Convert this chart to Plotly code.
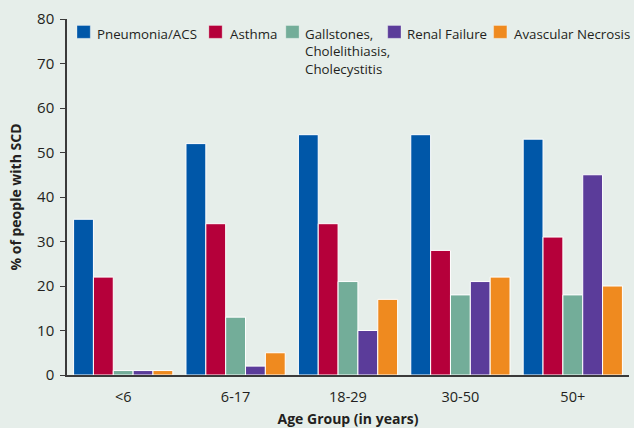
import plotly.graph_objects as go

categories = ["<6", "6-17", "18-29", "30-50", "50+"]
series_names = ["Pneumonia/ACS", "Asthma", "Gallstones,<br>Cholelithiasis,<br>Cholecystitis", "Renal Failure", "Avascular Necrosis"]
pneumonia = [35, 52, 54, 54, 53]
asthma = [22, 34, 34, 28, 31]
gallstones = [1, 13, 21, 18, 18]
renal = [1, 2, 10, 21, 45]
avascular = [1, 5, 17, 22, 20]
colors = ["#0057A8", "#B5003A", "#73AD99", "#5B3C9A", "#EF8A1F"]

W, H = 634, 428
L, R, T, B = 67, 4.5, 19, 53
pw, ph = W - L - R, H - T - B

def px_x(px):
    return (px - L) / pw

def px_y(py):
    return (H - B - py) / ph

fig = go.Figure()
for name, vals, c in zip(series_names, [pneumonia, asthma, gallstones, renal, avascular], colors):
    fig.add_trace(go.Bar(x=categories, y=vals, name=name, showlegend=False,
                         marker=dict(color=c, line=dict(color="white", width=1))))

# manual legend (box left px, text left px)
legend_box_x = [77, 209, 286, 388, 494]
legend_text_x = [95, 228, 303, 405, 512.5]
for name, c, bx, tx in zip(series_names, colors, legend_box_x, legend_text_x):
    fig.add_shape(type="rect", xref="paper", yref="paper",
                  x0=px_x(bx), x1=px_x(bx + 13.3), y0=px_y(38.3), y1=px_y(25.5),
                  fillcolor=c, line=dict(color="rgba(255,255,255,0.6)", width=0.5))
    fig.add_annotation(xref="paper", yref="paper", x=px_x(tx), y=px_y(22.5),
                       xanchor="left", yanchor="top", align="left", showarrow=False,
                       text=name, font=dict(size=13.3, color="#231F20"))

bg = "#E6EEEA"
fig.update_layout(
    width=W, height=H,
    paper_bgcolor=bg, plot_bgcolor=bg,
    margin=dict(l=L, r=R, t=T, b=B, autoexpand=False),
    barmode="group", bargap=0.117, bargroupgap=0.0,
    font=dict(family="Open Sans", color="#231F20", size=13),
    showlegend=False,
    xaxis=dict(showline=True, linecolor="#3a3a3a", linewidth=1.5, ticks="", tickfont=dict(size=14.5),
               ticklabelstandoff=8,
               title=dict(text="<b>Age Group (in years)</b>", font=dict(size=14), standoff=10)),
    yaxis=dict(range=[0, 80], dtick=10, showline=True, linecolor="#3a3a3a", linewidth=1.5,
               ticks="outside", ticklen=5, tickcolor="#3a3a3a", showgrid=False, zeroline=False,
               tickfont=dict(size=15), ticklabelstandoff=3,
               title=dict(text="<b>% of people with SCD</b>", font=dict(size=14), standoff=12)),
)
fig.write_html("out.html", config={"displayModeBar": False},
               post_script="document.body.style.margin='0';document.body.style.background='%s';" % bg)
